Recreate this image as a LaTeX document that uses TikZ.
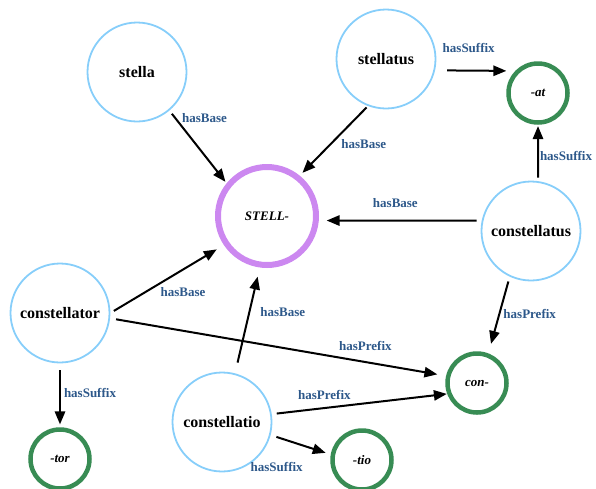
\documentclass[tikz,border=0pt]{standalone}
\usepackage{fontspec}
\setmainfont{Liberation Serif}
\usepackage{tikz}
\usetikzlibrary{shapes,arrows}
\usetikzlibrary{positioning}
\definecolor{wordblue}{RGB}{135,206,250}
\definecolor{rootpurple}{RGB}{204,136,240}
\definecolor{affixgreen}{RGB}{56,140,84}
\definecolor{lblblue}{RGB}{45,88,138}
\tikzstyle{word} = [circle, draw=wordblue, line width=1.8pt, minimum size=99pt,
    font=\fontsize{16}{19}\selectfont\bfseries]
\tikzstyle{root} = [circle, draw=rootpurple, line width=6pt, minimum size=98pt,
    font=\fontsize{13}{16}\selectfont\bfseries\itshape]
\tikzstyle{affix} = [circle, draw=affixgreen, line width=4.5pt, minimum size=59pt,
    font=\fontsize{13}{16}\selectfont\bfseries\itshape]
\tikzstyle{link} = [-triangle 45, black, line width=2pt]
\tikzstyle{lbl} = [font=\fontsize{13}{16}\selectfont\bfseries, text=lblblue, inner sep=1pt]

\begin{document}
\begin{tikzpicture}[x=1pt, y=-1pt]
  \useasboundingbox (0,0) rectangle (596,488);
  % Place nodes
  \node [word] (stella) at (137,72) {stella};
  \node [word] (stellatus) at (386,59) {stellatus};
  \node [root] (stell) at (267,216) {STELL-};
  \node [affix] (sufat) at (538,93) {-at};
  \node [word] (constellatus) at (531,231) {constellatus};
  \node [word] (constellator) at (60,313) {constellator};
  \node [affix] (con) at (477,383) {con-};
  \node [word] (constellatio) at (222,422) {constellatio};
  \node [affix, below of=constellator, node distance=146pt] (tor) {-tor};
  \node [affix] (tio) at (362,460) {-tio};
  % Draw edges
  \draw [link, shorten <=4pt, shorten >=2pt] (stella.-50) -- node[lbl, pos=0.1, right=5pt]{hasBase} (stell.141);
  \draw [link, shorten <=2pt, shorten >=4pt] (stellatus.249) -- node[lbl, pos=0.55, right=9pt]{hasBase} (stell.51.5);
  \draw [link, shorten <=12pt, shorten >=9pt] (stellatus.-13.7) -- node[lbl, pos=0.42, above=16pt]{hasSuffix} (sufat.136.5);
  \draw [link, shorten <=3.5pt, shorten >=1.5pt] (constellatus.82) -- node[lbl, pos=0.45, right]{hasSuffix} (sufat.-90);
  \draw [link, shorten <=5pt, shorten >=8pt] (constellatus.168.7) -- node[lbl, pos=0.53, above=11pt]{hasBase} (stell.-5.5);
  \draw [link, shorten <=5pt, shorten >=10pt] (constellatus.-115) -- node[lbl, pos=0.48, right=2pt]{hasPrefix} (con.69.4);
  \draw [link, shorten <=4pt, shorten >=8.5pt] (constellator.0) -- node[lbl, pos=0.64, below=16pt]{hasBase} (stell.214);
  \draw [link, shorten <=6pt, shorten >=9pt] (constellator.-6) -- node[lbl, pos=0.76, above=9pt]{hasPrefix} (con.167.3);
  \draw [link, shorten <=7pt, shorten >=3pt] (constellator.south) -- node[lbl, pos=0.47, right=2pt]{hasSuffix} (tor.north);
  \draw [link, shorten <=11pt, shorten >=9.5pt] (constellatio.75) -- node[lbl, pos=0.58, right=9pt]{hasBase} (stell.262.5);
  \draw [link, shorten <=5pt, shorten >=0.5pt] (constellatio.9.3) -- node[lbl, pos=0.3, above=6pt]{hasPrefix} (con.200);
  \draw [link, shorten <=6pt, shorten >=5.5pt] (constellatio.-15.3) -- node[lbl, pos=0.1, below=23pt]{hasSuffix} (tio.170.8);
\end{tikzpicture}
\end{document}
